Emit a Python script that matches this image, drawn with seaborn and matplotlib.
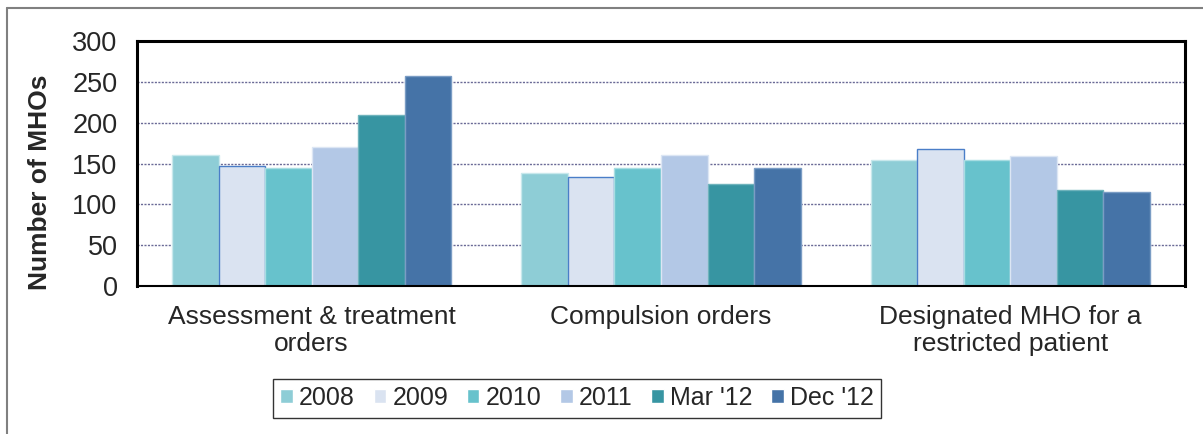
import pandas as pd
import numpy as np
import matplotlib.pyplot as plt
import seaborn as sns
from matplotlib.lines import Line2D
from matplotlib.ticker import FixedLocator

# Data
categories = ['Assessment & treatment\norders', 'Compulsion orders',
              'Designated MHO for a\nrestricted patient']
periods = ['2008', '2009', '2010', '2011', "Mar '12", "Dec '12"]
v_2008 = [160, 138, 154]
v_2009 = [147, 134, 168]
v_2010 = [145, 144, 154]
v_2011 = [170, 161, 159]
v_mar12 = [209, 125, 117]
v_dec12 = [257, 145, 115]

colors = ['#8ECDD6', '#DAE3F1', '#67C2CC', '#B3C8E6', '#3795A2', '#4573A7']
edges = ['#C8E8EC', '#4A7EC8', '#A8DDE2', '#DCE6F4', '#6FB3BC', '#7A9CC4']

rows = []
for p, vals in zip(periods, [v_2008, v_2009, v_2010, v_2011, v_mar12, v_dec12]):
    for c, v in zip(categories, vals):
        rows.append({'category': c, 'period': p, 'value': v})
df = pd.DataFrame(rows)

sns.set_theme(style='white')
plt.rcParams['font.family'] = ['Liberation Sans', 'DejaVu Sans']

fig = plt.figure(figsize=(12.03, 4.34), dpi=100)
ax = fig.add_axes([137 / 1203, 1 - 286 / 434, (1185 - 137) / 1203, (286 - 41) / 434])

sns.barplot(data=df, x='category', y='value', hue='period',
            order=categories, hue_order=periods, palette=colors,
            saturation=1, width=0.8, ax=ax)

for cont, ec in zip(ax.containers, edges):
    for bar in cont:
        bar.set_edgecolor(ec)
        bar.set_linewidth(1.0)

ax.set_ylim(0, 300)
ax.set_xlim(-0.5, 2.5)
ax.set_yticks(range(0, 301, 50))
ax.set_yticklabels([str(t) for t in range(0, 301, 50)], fontsize=19.5)
ax.set_xticklabels(categories, fontsize=19, linespacing=1.12)
ax.set_xlabel('')
ax.set_ylabel('Number of MHOs', fontsize=19, fontweight='bold')
ax.yaxis.set_label_coords(-0.081, 0.424)

for y in range(50, 300, 50):
    ax.axhline(y, color='#6A6A96', linestyle=(0, (1.5, 1.0)), linewidth=1.0, zorder=0)
ax.set_axisbelow(True)

ax.tick_params(axis='y', direction='out', length=8, width=1.2, color='black', pad=6)
ax.tick_params(axis='x', which='major', length=0, pad=14)
ax.xaxis.set_minor_locator(FixedLocator([0.5, 1.5, 2.5]))
ax.tick_params(axis='x', which='minor', direction='out', length=8, width=1.2, color='black')

for side in ['left', 'right', 'top']:
    ax.spines[side].set_color('black')
    ax.spines[side].set_linewidth(2.2)
ax.spines['bottom'].set_color('black')
ax.spines['bottom'].set_linewidth(1.5)

handles, labels = ax.get_legend_handles_labels()
ax.get_legend().remove()
leg = fig.legend(handles, labels, loc='center', bbox_to_anchor=(577 / 1203, 1 - 398 / 434),
                 ncol=6, fontsize=18, frameon=True, fancybox=False,
                 handlelength=0.5, handleheight=0.5, handletextpad=0.25,
                 columnspacing=0.75, borderpad=0.3, borderaxespad=0.2)
leg.get_frame().set_edgecolor('black')
leg.get_frame().set_linewidth(1.0)

# outer chart border (left + top)
fig.add_artist(Line2D([7 / 1203, 7 / 1203], [0, 1 - 8 / 434], transform=fig.transFigure,
                      color='#808080', linewidth=1.5))
fig.add_artist(Line2D([7 / 1203, 1], [1 - 8 / 434, 1 - 8 / 434], transform=fig.transFigure,
                      color='#808080', linewidth=1.5))

plt.savefig('out.png', dpi=100)
